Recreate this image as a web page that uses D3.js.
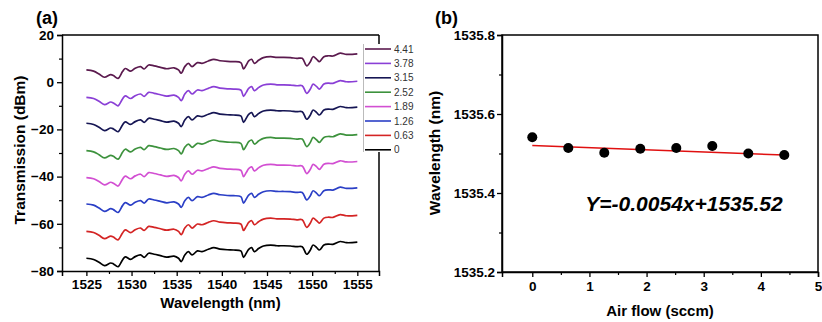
<!DOCTYPE html>
<html><head><meta charset="utf-8">
<script src="https://cdn.jsdelivr.net/npm/d3@7"></script>
<style>
html,body{margin:0;padding:0;background:#fff;}
svg{display:block;font-family:"Liberation Sans",Arial,sans-serif;}
</style></head>
<body>
<svg id="chart" width="822" height="322"></svg>
<script>
// ---------- Panel (a) data ----------
const wavelengths = [1525.0,1525.8,1526.4,1527.0,1527.7,1528.0,1528.5,1529.0,1529.3,1529.9,1530.4,1531.0,1531.4,1531.9,1532.5,1533.2,1533.9,1534.7,1535.2,1535.5,1535.9,1536.3,1536.7,1537.3,1537.8,1538.5,1539.1,1539.8,1540.6,1541.3,1542.1,1542.4,1542.7,1543.0,1543.3,1543.6,1544.1,1544.6,1545.4,1546.1,1546.8,1547.6,1548.3,1548.9,1549.4,1549.8,1550.1,1550.5,1550.8,1551.3,1551.8,1552.3,1553.1,1553.8,1555.0];
const flow0    = [-74.6,-75.1,-76.3,-77.7,-76.6,-77.0,-78.2,-75.3,-74.0,-75.1,-73.9,-73.2,-74.2,-72.5,-72.9,-73.5,-74.1,-73.7,-74.6,-76.0,-73.2,-71.8,-73.2,-71.5,-71.8,-70.8,-70.1,-70.7,-71.0,-71.1,-71.5,-74.2,-72.5,-70.7,-70.1,-71.8,-70.4,-69.4,-69.0,-69.3,-69.3,-69.4,-69.7,-69.7,-72.9,-71.1,-69.0,-70.1,-71.1,-69.0,-68.6,-68.7,-67.5,-68.0,-67.8];
const flow063  = [-63.2,-63.7,-64.9,-66.3,-65.2,-65.6,-66.8,-63.9,-62.6,-63.7,-62.5,-61.8,-62.8,-61.1,-61.5,-62.1,-62.7,-62.3,-63.2,-64.6,-61.8,-60.4,-61.8,-60.1,-60.4,-59.4,-58.7,-59.3,-59.6,-59.7,-60.1,-62.8,-61.1,-59.3,-58.7,-60.4,-59.0,-58.0,-57.6,-57.9,-57.9,-58.0,-58.3,-58.3,-61.5,-59.7,-57.6,-58.7,-59.7,-57.6,-57.2,-57.3,-56.1,-56.6,-56.4];
const flow126  = [-51.6,-52.1,-53.3,-54.7,-53.6,-54.0,-55.2,-52.3,-51.0,-52.1,-50.9,-50.2,-51.2,-49.5,-49.9,-50.5,-51.1,-50.7,-51.6,-53.0,-50.2,-48.8,-50.2,-48.5,-48.8,-47.8,-47.1,-47.7,-48.0,-48.1,-48.5,-51.2,-49.5,-47.7,-47.1,-48.8,-47.4,-46.4,-46.0,-46.3,-46.3,-46.4,-46.7,-46.7,-49.9,-48.1,-46.0,-47.1,-48.1,-46.0,-45.6,-45.7,-44.5,-45.0,-44.8];
const flow189  = [-40.4,-40.9,-42.1,-43.5,-42.4,-42.8,-44.0,-41.1,-39.8,-40.9,-39.7,-39.0,-40.0,-38.3,-38.7,-39.3,-39.9,-39.5,-40.4,-41.8,-39.0,-37.6,-39.0,-37.3,-37.6,-36.6,-35.9,-36.5,-36.8,-36.9,-37.3,-40.0,-38.3,-36.5,-35.9,-37.6,-36.2,-35.2,-34.8,-35.1,-35.1,-35.2,-35.5,-35.5,-38.7,-36.9,-34.8,-35.9,-36.9,-34.8,-34.4,-34.5,-33.3,-33.8,-33.6];
const flow252  = [-29.0,-29.5,-30.7,-32.1,-31.0,-31.4,-32.6,-29.7,-28.4,-29.5,-28.3,-27.6,-28.6,-26.9,-27.3,-27.9,-28.5,-28.1,-29.0,-30.4,-27.6,-26.2,-27.6,-25.9,-26.2,-25.2,-24.5,-25.1,-25.4,-25.5,-25.9,-28.6,-26.9,-25.1,-24.5,-26.2,-24.8,-23.8,-23.4,-23.7,-23.7,-23.8,-24.1,-24.1,-27.3,-25.5,-23.4,-24.5,-25.5,-23.4,-23.0,-23.1,-21.9,-22.4,-22.2];
const flow315  = [-17.4,-17.9,-19.1,-20.5,-19.4,-19.8,-21.0,-18.1,-16.8,-17.9,-16.7,-16.0,-17.0,-15.3,-15.7,-16.3,-16.9,-16.5,-17.4,-18.8,-16.0,-14.6,-16.0,-14.3,-14.6,-13.6,-12.9,-13.5,-13.8,-13.9,-14.3,-17.0,-15.3,-13.5,-12.9,-14.6,-13.2,-12.2,-11.8,-12.1,-12.1,-12.2,-12.5,-12.5,-15.7,-13.9,-11.8,-12.9,-13.9,-11.8,-11.4,-11.5,-10.3,-10.8,-10.6];
const flow378  = [-6.4,-6.9,-8.1,-9.5,-8.4,-8.8,-10.0,-7.1,-5.8,-6.9,-5.7,-5.0,-6.0,-4.3,-4.7,-5.3,-5.9,-5.5,-6.4,-7.8,-5.0,-3.6,-5.0,-3.3,-3.6,-2.6,-1.9,-2.5,-2.8,-2.9,-3.3,-6.0,-4.3,-2.5,-1.9,-3.6,-2.2,-1.2,-0.8,-1.1,-1.1,-1.2,-1.5,-1.5,-4.7,-2.9,-0.8,-1.9,-2.9,-0.8,-0.4,-0.5,0.7,0.2,0.4];
const flow441  = [5.2,4.7,3.5,2.1,3.2,2.8,1.6,4.5,5.8,4.7,5.9,6.6,5.6,7.3,6.9,6.3,5.7,6.1,5.2,3.8,6.6,8.0,6.6,8.3,8.0,9.0,9.7,9.1,8.8,8.7,8.3,5.6,7.3,9.1,9.7,8.0,9.4,10.4,10.8,10.5,10.5,10.4,10.1,10.1,6.9,8.7,10.8,9.7,8.7,10.8,11.2,11.1,12.3,11.8,12.0];
const seriesLabels = ["4.41","3.78","3.15","2.52","1.89","1.26","0.63","0"];
const seriesValues = [flow441, flow378, flow315, flow252, flow189, flow126, flow063, flow0];
const seriesColors = ["#5b1a4e","#8a3fd6","#161654","#3d923d","#d24fd2","#2b3fc6","#d42424","#000000"];
const xTicksA = [1525,1530,1535,1540,1545,1550,1555];
const yTicksA = [-80,-60,-40,-20,0,20];

// ---------- Panel (b) data ----------
const airFlow = [0,0.63,1.26,1.89,2.52,3.15,3.78,4.41];
const peakWl  = [1535.541,1535.514,1535.502,1535.512,1535.514,1535.519,1535.500,1535.496];
const fitSlope = -0.0054, fitIntercept = 1535.52;
const xTicksB = [0,1,2,3,4,5];
const yTicksB = [1535.2,1535.4,1535.6,1535.8];

const svg = d3.select("#chart");
const bold = "bold";

// ===== Panel (a) =====
const A = {l:62, r:379, t:35, b:271};
const xA = d3.scaleLinear().domain([1522.3,1557.4]).range([A.l,A.r]);
const yA = d3.scaleLinear().domain([-80,20]).range([A.b,A.t]);
const gA = svg.append("g");

const lineA = d3.line().x((d,i)=>xA(wavelengths[i])).y(d=>yA(d)).curve(d3.curveCatmullRom.alpha(0.5));
seriesValues.slice().reverse().forEach((vals,k)=>{
  const i = seriesValues.length-1-k;
  gA.append("path").attr("d",lineA(vals)).attr("fill","none")
    .attr("stroke",seriesColors[i]).attr("stroke-width",1.7).attr("stroke-linejoin","round");
});

gA.append("line").attr("x1",A.l).attr("x2",A.r).attr("y1",A.t).attr("y2",A.t).attr("stroke","#000").attr("stroke-width",1.5);
gA.append("line").attr("x1",A.r).attr("x2",A.r).attr("y1",A.t).attr("y2",A.b).attr("stroke","#000").attr("stroke-width",1.5);

function styleAxis(g,fs){
  g.select(".domain").attr("stroke","#000").attr("stroke-width",1.5);
  g.selectAll(".tick line").attr("stroke","#000").attr("stroke-width",1.3);
  g.selectAll("text").attr("font-size",fs).attr("font-weight",bold).attr("fill","#000")
   .attr("font-family","'Liberation Sans',Arial,sans-serif");
}
const axA_x = gA.append("g").attr("transform",`translate(0,${A.b})`)
  .call(d3.axisBottom(xA).tickValues(xTicksA).tickSize(5).tickPadding(3).tickFormat(d3.format("d")));
styleAxis(axA_x,"13.5px");
gA.append("g").attr("transform",`translate(0,${A.b})`)
  .call(d3.axisBottom(xA).tickValues(d3.range(1527.5,1555,5)).tickSize(3).tickFormat(""))
  .call(g=>{g.select(".domain").remove(); g.selectAll("line").attr("stroke","#000").attr("stroke-width",1.2);});
const axA_y = gA.append("g").attr("transform",`translate(${A.l},0)`)
  .call(d3.axisLeft(yA).tickValues(yTicksA).tickSize(5).tickPadding(3).tickFormat(d3.format("d")));
styleAxis(axA_y,"13.5px");
gA.append("g").attr("transform",`translate(${A.l},0)`)
  .call(d3.axisLeft(yA).tickValues(d3.range(-70,20,20)).tickSize(3).tickFormat(""))
  .call(g=>{g.select(".domain").remove(); g.selectAll("line").attr("stroke","#000").attr("stroke-width",1.2);});

// legend
const legX = 363, legY = 46, legStep = 14.4;
gA.append("rect").attr("x",legX).attr("y",legY-2).attr("width",56).attr("height",108).attr("fill","#fff");
gA.append("line").attr("x1",legX+0.5).attr("x2",legX+0.5).attr("y1",legY-2).attr("y2",legY+106).attr("stroke","#bbb").attr("stroke-width",1);
seriesLabels.forEach((lab,i)=>{
  const yy = legY+3+i*legStep;
  gA.append("line").attr("x1",legX+2).attr("x2",legX+28).attr("y1",yy).attr("y2",yy)
    .attr("stroke",seriesColors[i]).attr("stroke-width",1.6);
  gA.append("text").attr("x",legX+31).attr("y",yy).attr("dy","0.35em")
    .attr("font-size","10px").attr("fill","#333").text(lab);
});

gA.append("text").attr("transform",`translate(25,150) rotate(-90)`).attr("text-anchor","middle")
  .attr("font-size","15.5px").attr("font-weight",bold).text("Transmission (dBm)");
gA.append("text").attr("x",(A.l+A.r)/2).attr("y",308).attr("text-anchor","middle")
  .attr("font-size","15px").attr("font-weight",bold).text("Wavelength (nm)");
gA.append("text").attr("x",36).attr("y",24).attr("font-size","18px").attr("font-weight",bold).text("(a)");

// ===== Panel (b) =====
const B = {l:502, r:818, t:35, b:272};
const xB = d3.scaleLinear().domain([-0.53,5]).range([B.l,B.r]);
const yB = d3.scaleLinear().domain([1535.2,1535.8]).range([B.b,B.t]);
const gB = svg.append("g");

gB.append("rect").attr("x",B.l).attr("y",B.t).attr("width",B.r-B.l).attr("height",B.b-B.t)
  .attr("fill","none").attr("stroke","#000").attr("stroke-width",1.5);

const axB_x = gB.append("g").attr("transform",`translate(0,${B.b})`)
  .call(d3.axisBottom(xB).tickValues(xTicksB).tickSize(5).tickPadding(4).tickFormat(d3.format("d")));
styleAxis(axB_x,"13.5px");
gB.append("g").attr("transform",`translate(0,${B.b})`)
  .call(d3.axisBottom(xB).tickValues([0.5,1.5,2.5,3.5,4.5]).tickSize(3).tickFormat(""))
  .call(g=>{g.select(".domain").remove(); g.selectAll("line").attr("stroke","#000").attr("stroke-width",1.2);});
const axB_y = gB.append("g").attr("transform",`translate(${B.l},0)`)
  .call(d3.axisLeft(yB).tickValues(yTicksB).tickSize(5).tickPadding(2).tickFormat(d3.format(".1f")));
styleAxis(axB_y,"13.5px");
gB.append("g").attr("transform",`translate(${B.l},0)`)
  .call(d3.axisLeft(yB).tickValues([1535.3,1535.5,1535.7]).tickSize(3).tickFormat(""))
  .call(g=>{g.select(".domain").remove(); g.selectAll("line").attr("stroke","#000").attr("stroke-width",1.2);});

const fitX = [airFlow[0], airFlow[airFlow.length-1]];
gB.append("path").attr("d",d3.line().x(d=>xB(d)).y(d=>yB(fitSlope*d+fitIntercept))(fitX))
  .attr("stroke","#e01010").attr("stroke-width",1.5).attr("fill","none");
gB.selectAll("circle.pt").data(airFlow).join("circle").attr("class","pt")
  .attr("cx",d=>xB(d)).attr("cy",(d,i)=>yB(peakWl[i])).attr("r",5).attr("fill","#000");

gB.append("text").attr("x",684).attr("y",211).attr("text-anchor","middle")
  .attr("font-size","21px").attr("font-weight",bold).attr("font-style","italic").text("Y=-0.0054x+1535.52");

gB.append("text").attr("transform",`translate(440,153) rotate(-90)`).attr("text-anchor","middle")
  .attr("font-size","15.5px").attr("font-weight",bold).text("Wavelength (nm)");
gB.append("text").attr("x",(B.l+B.r)/2).attr("y",316).attr("text-anchor","middle")
  .attr("font-size","15px").attr("font-weight",bold).text("Air flow (sccm)");
gB.append("text").attr("x",435).attr("y",24).attr("font-size","18px").attr("font-weight",bold).text("(b)");
</script>
</body></html>
